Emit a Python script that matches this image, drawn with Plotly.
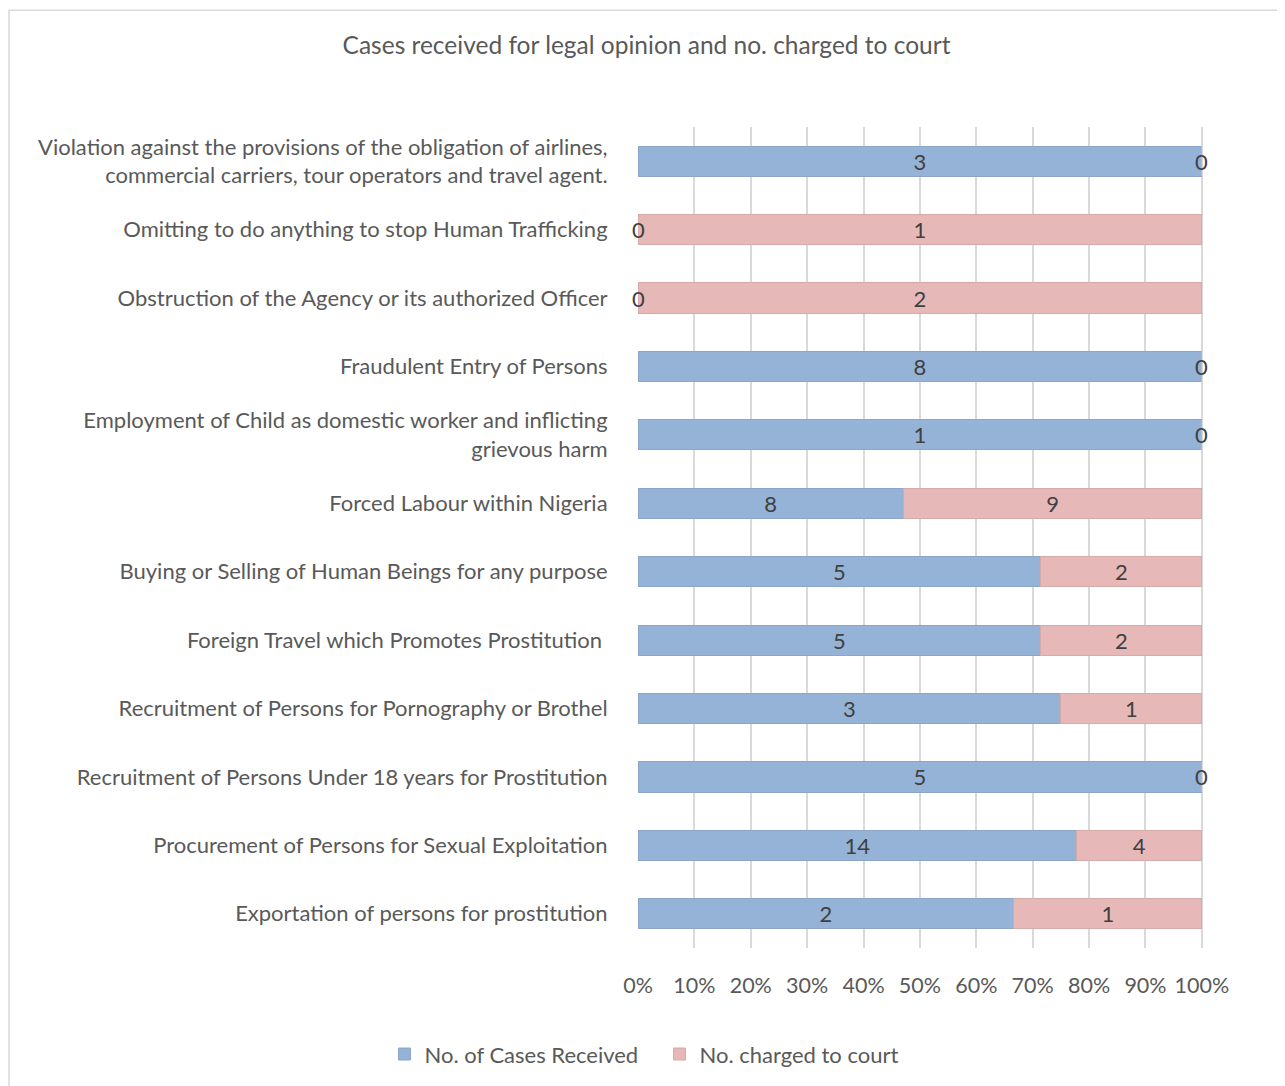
import plotly.graph_objects as go

categories = [
    "Exportation of persons for prostitution",
    "Procurement of Persons for Sexual Exploitation",
    "Recruitment of Persons Under 18 years for Prostitution",
    "Recruitment of Persons for Pornography or Brothel",
    "Foreign Travel which Promotes Prostitution ",
    "Buying or Selling of Human Beings for any purpose",
    "Forced Labour within Nigeria",
    "Employment of Child as domestic worker and inflicting<br>grievous harm",
    "Fraudulent Entry of Persons",
    "Obstruction of the Agency or its authorized Officer",
    "Omitting to do anything to stop Human Trafficking",
    "Violation against the provisions of the obligation of airlines,<br>commercial carriers, tour operators and travel agent.",
]
cases_received = [2, 14, 5, 3, 5, 5, 8, 1, 8, 0, 0, 3]
charged_to_court = [1, 4, 0, 1, 2, 2, 9, 0, 0, 2, 1, 0]
series_names = ["No. of Cases Received", "No. charged to court"]
tick_vals = [0, 10, 20, 30, 40, 50, 60, 70, 80, 90, 100]
tick_text = ["0%", "10%", "20%", "30%", "40%", "50%", "60%", "70%", "80%", "90%", "100%"]

FONT = "Lato, 'Open Sans', sans-serif"
BLUE = "#95b3d7"
PINK = "#e6b9b8"
FS = 22

fig = go.Figure()
fig.add_trace(go.Bar(
    y=categories, x=cases_received, orientation="h", name=series_names[0],
    marker=dict(color=BLUE, line=dict(color="#8aa6c9", width=1)),
    text=[str(v) if v else "" for v in cases_received],
    textposition="inside", insidetextanchor="middle", textangle=0, constraintext="none",
    textfont=dict(color="#404040", size=FS, family=FONT),
    width=0.44,
))
fig.add_trace(go.Bar(
    y=categories, x=charged_to_court, orientation="h", name=series_names[1],
    marker=dict(color=PINK, line=dict(color="#d6aaa9", width=1)),
    text=[str(v) if v else "" for v in charged_to_court],
    textposition="inside", insidetextanchor="middle", textangle=0, constraintext="none",
    textfont=dict(color="#404040", size=FS, family=FONT),
    width=0.44,
))

# labels for zero-valued segments at bar edges
annotations = []
for cat, a, b in zip(categories, cases_received, charged_to_court):
    if a == 0:
        annotations.append(dict(x=0, y=cat, xref="x", yref="y", text="0", showarrow=False,
                                font=dict(color="#404040", size=FS, family=FONT), xanchor="center"))
    if b == 0:
        annotations.append(dict(x=100, y=cat, xref="x", yref="y", text="0", showarrow=False,
                                font=dict(color="#404040", size=FS, family=FONT), xanchor="center"))

fig.update_layout(
    width=1277, height=1078,
    barmode="stack", barnorm="percent",
    paper_bgcolor="white", plot_bgcolor="white",
    margin=dict(l=630, r=82, t=119, b=137),
    title=dict(text="Cases received for legal opinion and no. charged to court",
               x=0.5, xanchor="center", y=1 - 37 / 1078, yanchor="middle",
               font=dict(size=24.5, color="#595959", family=FONT)),
    font=dict(family=FONT, color="#595959"),
    xaxis=dict(range=[0, 100.2], tickvals=tick_vals, ticktext=tick_text,
               showgrid=True, gridcolor="#d9d9d9", gridwidth=1.5,
               zeroline=False, showline=False,
               tickfont=dict(size=21.5, color="#595959", family=FONT),
               ticks="outside", ticklen=18, tickcolor="rgba(0,0,0,0)"),
    yaxis=dict(showgrid=False, zeroline=False, showline=False,
               tickfont=dict(size=FS, color="#595959", family=FONT),
               ticks="outside", ticklen=25, tickcolor="rgba(0,0,0,0)"),
    legend=dict(orientation="h", x=0.038, xanchor="center", y=-0.128, yanchor="middle",
                font=dict(size=FS, color="#595959", family=FONT), traceorder="normal",
                entrywidth=230, itemwidth=30),
    annotations=annotations,
    shapes=[dict(type="rect", xref="paper", yref="paper",
                 x0=-629 / 565, x1=1 + 77 / 565, y0=-141 / 822, y1=1 + 117 / 822,
                 line=dict(color="#d9d9d9", width=1.5), fillcolor="rgba(0,0,0,0)")],
)
fig.write_html("out.html")
